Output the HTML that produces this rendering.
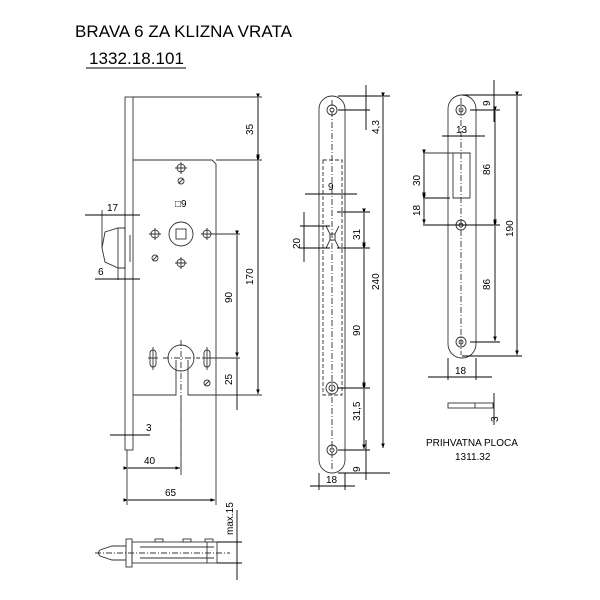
<!DOCTYPE html>
<html><head><meta charset="utf-8"><style>body{margin:0;background:#fff}svg{display:block}</style></head>
<body>
<svg width="600" height="600" xmlns="http://www.w3.org/2000/svg" font-family="Liberation Sans, sans-serif">
<defs><marker id="a" markerWidth="6" markerHeight="6" refX="5" refY="3" orient="auto"><path d="M0,1 L5,3 L0,5z" fill="#000"/></marker></defs>
<text x="75" y="37" font-size="17" fill="#000" textLength="217">BRAVA 6 ZA KLIZNA VRATA</text>
<text x="89" y="64" font-size="17" fill="#000" textLength="95">1332.18.101</text>
<line x1="86" y1="68" x2="186" y2="68" stroke="#000"/>
<g stroke="#333" fill="none" stroke-width="0.9">
<!-- lock -->
<rect x="125" y="97" width="8" height="353"/>
<line x1="133" y1="97" x2="262" y2="97"/>
<path d="M133,160 H212 L216,164 V395 H188 V360 M176,360 V395 H133"/>
<line x1="216" y1="160" x2="262" y2="160"/><line x1="216" y1="395" x2="262" y2="395"/>
<circle cx="181" cy="234" r="12"/><rect x="176" y="229" width="10" height="10"/>
<circle cx="181" cy="358" r="13"/>
<circle cx="181" cy="168" r="4"/><circle cx="155" cy="234" r="4"/><circle cx="207" cy="234" r="4"/><circle cx="181" cy="263" r="4"/>
<path d="M175,168 H187 M181,162 V174 M149,234 H161 M155,228 V240 M201,234 H213 M207,228 V240 M175,263 H187 M181,257 V269"/>
<circle cx="181" cy="181" r="3"/><circle cx="155" cy="258" r="3"/><circle cx="207" cy="383" r="3"/>
<path d="M179,183 L183,179 M153,260 L157,256 M205,385 L209,381"/>
<rect x="150" y="350" width="6" height="17" rx="3"/><rect x="204" y="350" width="6" height="17" rx="3"/>
<path d="M153,347 V370 M207,347 V370 M148,358 H158 M202,358 H212"/>
<line x1="181" y1="340" x2="181" y2="470" stroke-dasharray="6,2,1,2"/>
<line x1="163" y1="358" x2="200" y2="358" stroke-dasharray="6,2,1,2"/>
<path d="M102,248 L105,232 L118,228 H125 V268 H118 L105,262 Z"/>
<line x1="118" y1="228" x2="118" y2="280"/>
<line x1="102" y1="248" x2="102" y2="210"/>
<line x1="130" y1="235" x2="130" y2="262"/>
<line x1="207" y1="234" x2="240" y2="234"/><line x1="207" y1="358" x2="240" y2="358"/>
<line x1="127" y1="450" x2="127" y2="505"/><line x1="216" y1="395" x2="216" y2="505"/><line x1="181" y1="395" x2="181" y2="475"/>
<g stroke="#000" marker-end="url(#a)" marker-start="url(#a)">
<line x1="258" y1="98" x2="258" y2="159"/><line x1="258" y1="161" x2="258" y2="394"/>
<line x1="237" y1="235" x2="237" y2="357"/>
<line x1="128" y1="468" x2="180" y2="468"/><line x1="128" y1="500" x2="215" y2="500"/>
</g>
<line x1="237" y1="358" x2="237" y2="410" stroke="#000"/>
<line x1="85" y1="215" x2="140" y2="215" stroke="#000"/><line x1="95" y1="279" x2="140" y2="279" stroke="#000"/>
<line x1="110" y1="435" x2="150" y2="435" stroke="#000"/>
<!-- faceplate -->
<rect x="319" y="96" width="26" height="377" rx="13"/>
<rect x="323" y="160" width="19" height="235" stroke-dasharray="4,2"/>
<line x1="332" y1="100" x2="332" y2="470" stroke-dasharray="6,2,1,2"/>
<circle cx="332" cy="110" r="5"/><circle cx="332" cy="110" r="2"/>
<circle cx="332" cy="388" r="6"/><circle cx="332" cy="388" r="3"/>
<circle cx="332" cy="450" r="5"/><circle cx="332" cy="450" r="2"/>
<path d="M326,226 L330,234 V240 L326,248 M339,226 L335,234 V240 L339,248"/><rect x="330" y="234" width="5" height="6"/>
<g stroke="#000">
<line x1="338" y1="96" x2="390" y2="96"/><line x1="338" y1="110" x2="370" y2="110"/>
<line x1="338" y1="450" x2="370" y2="450"/><line x1="338" y1="473" x2="390" y2="473"/>
<line x1="337" y1="212" x2="370" y2="212"/><line x1="337" y1="248" x2="370" y2="248"/>
<line x1="337" y1="388" x2="370" y2="388"/>
<line x1="300" y1="226" x2="330" y2="226"/><line x1="300" y1="248" x2="330" y2="248"/>
<line x1="319" y1="473" x2="319" y2="490"/><line x1="345" y1="473" x2="345" y2="490"/>
<line x1="305" y1="194" x2="357" y2="194"/>
<line x1="366" y1="85" x2="366" y2="130"/><line x1="366" y1="440" x2="366" y2="480"/>
<line x1="304" y1="212" x2="304" y2="262"/>
<line x1="310" y1="486" x2="355" y2="486"/>
<g marker-end="url(#a)" marker-start="url(#a)">
<line x1="383" y1="97" x2="383" y2="448"/><line x1="364" y1="213" x2="364" y2="247"/>
<line x1="364" y1="249" x2="364" y2="387"/><line x1="364" y1="389" x2="364" y2="449"/>
</g>
</g>
<!-- strike plate -->
<rect x="448" y="95" width="28" height="263" rx="14"/>
<line x1="461" y1="98" x2="461" y2="355" stroke-dasharray="6,2,1,2"/>
<circle cx="461" cy="110" r="5"/><circle cx="461" cy="110" r="2"/>
<circle cx="461" cy="225" r="5"/><circle cx="461" cy="225" r="2"/>
<circle cx="461" cy="342" r="5"/><circle cx="461" cy="342" r="2"/>
<path d="M423,153 H470 V198 H453 V153"/>
<g stroke="#000">
<line x1="462" y1="95" x2="522" y2="95"/><line x1="470" y1="110" x2="500" y2="110"/>
<line x1="423" y1="225" x2="500" y2="225"/><line x1="470" y1="342" x2="500" y2="342"/><line x1="462" y1="356" x2="522" y2="356"/>
<line x1="423" y1="198" x2="450" y2="198"/>
<line x1="448" y1="358" x2="448" y2="380"/><line x1="476" y1="358" x2="476" y2="380"/>
<line x1="428" y1="377" x2="492" y2="377"/><line x1="442" y1="136" x2="485" y2="136"/>
<line x1="494" y1="80" x2="494" y2="122"/><line x1="494" y1="393" x2="494" y2="425"/>
<g marker-end="url(#a)" marker-start="url(#a)">
<line x1="517" y1="96" x2="517" y2="355"/><line x1="495" y1="111" x2="495" y2="224"/><line x1="495" y1="226" x2="495" y2="341"/>
<line x1="424" y1="154" x2="424" y2="197"/><line x1="424" y1="199" x2="424" y2="224"/>
</g></g>
<rect x="448" y="403" width="45" height="5"/><line x1="475" y1="403" x2="475" y2="408"/>
<!-- bolt -->
<rect x="132" y="542" width="85" height="21"/>
<line x1="140" y1="547" x2="214" y2="547"/><line x1="140" y1="558" x2="214" y2="558"/>
<rect x="126" y="539" width="6" height="28"/>
<path d="M126,546 H112 L100,550 L98,553 L100,556 L112,560 H126"/>
<line x1="95" y1="553" x2="230" y2="553" stroke-dasharray="6,2,1,2"/>
<line x1="207" y1="542" x2="207" y2="563"/>
<rect x="155" y="539" width="8" height="3"/><rect x="183" y="539" width="8" height="3"/><rect x="205" y="539" width="8" height="3"/>
<line x1="217" y1="542" x2="242" y2="542" stroke="#000"/><line x1="217" y1="563" x2="242" y2="563" stroke="#000"/>
<line x1="237" y1="510" x2="237" y2="580" stroke="#000"/>
</g>
<g font-size="10" fill="#000">
<text x="107" y="211">17</text><text x="98" y="275">6</text><text x="146" y="431">3</text>
<text x="144" y="464">40</text><text x="165" y="496">65</text><text x="175" y="207">□9</text>
<text transform="translate(253,135) rotate(-90)">35</text>
<text transform="translate(253,285) rotate(-90)">170</text>
<text transform="translate(232,303) rotate(-90)">90</text>
<text transform="translate(232,385) rotate(-90)">25</text>
<text x="328" y="190">9</text>
<text transform="translate(379,134) rotate(-90)">4,3</text>
<text transform="translate(300,249) rotate(-90)">20</text>
<text transform="translate(360,240) rotate(-90)">31</text>
<text transform="translate(360,336) rotate(-90)">90</text>
<text transform="translate(360,421) rotate(-90)">31,5</text>
<text transform="translate(360,472) rotate(-90)">9</text>
<text transform="translate(379,290) rotate(-90)">240</text>
<text x="326" y="483">18</text>
<text x="456" y="133">13</text>
<text transform="translate(490,106) rotate(-90)">9</text>
<text transform="translate(490,175) rotate(-90)">86</text>
<text transform="translate(490,290) rotate(-90)">86</text>
<text transform="translate(513,237) rotate(-90)">190</text>
<text transform="translate(420,186) rotate(-90)">30</text>
<text transform="translate(420,216) rotate(-90)">18</text>
<text x="455" y="374">18</text>
<text transform="translate(498,422) rotate(-90)">3</text>
<text x="426" y="446">PRIHVATNA PLOCA</text>
<text x="455" y="460">1311.32</text>
<text transform="translate(233,535) rotate(-90)">max.15</text>
</g>
</svg>
</body></html>
